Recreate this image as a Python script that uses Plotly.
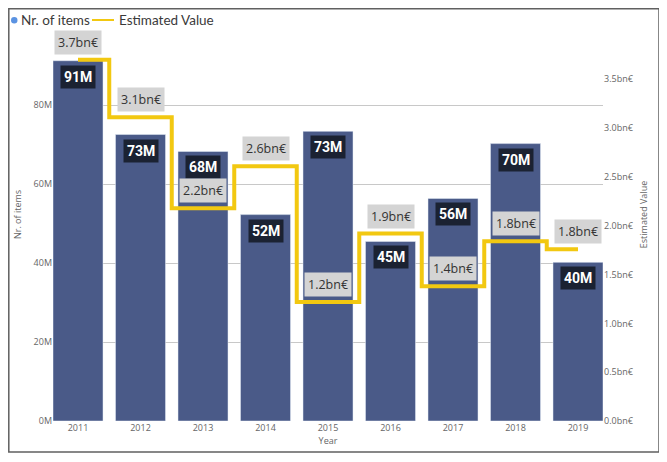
import plotly.graph_objects as go

# data
years = ["2011", "2012", "2013", "2014", "2015", "2016", "2017", "2018", "2019"]
items_m = [91.3, 72.6, 68.3, 52.3, 73.4, 45.5, 56.4, 70.3, 40.2]        # Nr. of items (millions)
value_bn = [3.70, 3.11, 2.18, 2.61, 1.22, 1.92, 1.38, 1.84, 1.76]        # Estimated Value (bn€)
items_lbl = ["91M", "73M", "68M", "52M", "73M", "45M", "56M", "70M", "40M"]
value_lbl = ["3.7bn€", "3.1bn€", "2.2bn€", "2.6bn€", "1.2bn€", "1.9bn€", "1.4bn€", "1.8bn€", "1.8bn€"]
left_ticks = [0, 20, 40, 60, 80]
right_ticks = [0, 0.5, 1.0, 1.5, 2.0, 2.5, 3.0, 3.5]

BAR = "#4A5A88"
YEL = "#F2C811"
FONT = "Segoe UI, Open Sans, sans-serif"
GREY = "#666666"

W, H = 667, 462
L, R, T, B = 45, 72, 0, 49
PW, PH = W - L - R, H - T - B


# helpers: figure pixels -> paper fraction (for the frame / legend only)
def px(x):
    return (x - L) / PW


def py(y):
    return (H - B - y) / PH


fig = go.Figure()

fig.add_trace(go.Bar(
    x=years, y=items_m, marker_color=BAR, name="Nr. of items", showlegend=False
))
fig.add_trace(go.Scatter(
    x=years, y=value_bn, yaxis="y2", mode="lines", name="Estimated Value",
    line=dict(color=YEL, width=4, shape="hvh"), showlegend=False
))

# dark labels inside the top of each bar (x by category index)
for i, (v, t) in enumerate(zip(items_m, items_lbl)):
    fig.add_annotation(
        x=i, y=v, xref="x", yref="y", text="<b>" + t + "</b>", showarrow=False,
        yanchor="top", yshift=-4, bgcolor="#1B2232", borderpad=3,
        font=dict(family="Roboto, sans-serif", size=14, color="white")
    )
# grey labels above the step line
for i, (v, t) in enumerate(zip(value_bn, value_lbl)):
    fig.add_annotation(
        x=i, y=v, xref="x", yref="y2", text=t, showarrow=False,
        yanchor="bottom", yshift=5, bgcolor="#D4D4D4", borderpad=3,
        font=dict(family=FONT, size=12.5, color="#333333")
    )

# legend drawn like the Power BI header: dot, text, line sample, text
fig.add_shape(type="circle", xref="paper", yref="paper",
              x0=px(3), x1=px(9.5), y0=py(15.5), y1=py(9),
              fillcolor="#5B93E2", line=dict(width=0))
fig.add_annotation(x=px(11), y=py(12), xref="paper", yref="paper", text="Nr. of items",
                   showarrow=False, xanchor="left", yanchor="middle",
                   font=dict(family="Lato, sans-serif", size=13.5, color="#3A3A3A"))
fig.add_shape(type="line", xref="paper", yref="paper",
              x0=px(84), x1=px(106), y0=py(12), y1=py(12),
              line=dict(color=YEL, width=2))
fig.add_annotation(x=px(109), y=py(12), xref="paper", yref="paper", text="Estimated Value",
                   showarrow=False, xanchor="left", yanchor="middle",
                   font=dict(family="Lato, sans-serif", size=13.5, color="#3A3A3A"))

# outer frame of the visual
fig.add_shape(type="rect", xref="paper", yref="paper",
              x0=px(0.8), x1=px(651), y0=py(444), y1=py(0.8),
              line=dict(color="#606060", width=1.5), fillcolor="rgba(0,0,0,0)", layer="below")

fig.update_layout(
    width=W, height=H,
    margin=dict(l=L, r=R, t=T, b=B),
    paper_bgcolor="white", plot_bgcolor="white",
    font=dict(family=FONT, color=GREY, size=9),
    bargap=0.2,
    showlegend=False,
    xaxis=dict(
        type="category", range=[-0.4, 8.4], showgrid=False, showline=False, ticks="",
        tickfont=dict(size=9, color=GREY),
        title=dict(text="Year", font=dict(size=9, color=GREY), standoff=4)
    ),
    yaxis=dict(
        range=[0, PH / 3.946], tickvals=left_ticks,
        ticktext=[f"{v}M" for v in left_ticks],
        showgrid=True, gridcolor="#C8C8C8", gridwidth=1, zeroline=False,
        showline=False, ticks="", tickfont=dict(size=9, color=GREY),
        title=dict(text="Nr. of items", font=dict(size=9, color=GREY), standoff=10)
    ),
    yaxis2=dict(
        overlaying="y", side="right", range=[0, PH / 97.63], tickvals=right_ticks,
        ticktext=[f"{v:.1f}bn€" for v in right_ticks], showgrid=False, zeroline=False,
        showline=False, ticks="", tickfont=dict(size=9, color=GREY),
        title=dict(text="Estimated Value", font=dict(size=9, color=GREY), standoff=8)
    )
)

fig.write_html("out.html")
